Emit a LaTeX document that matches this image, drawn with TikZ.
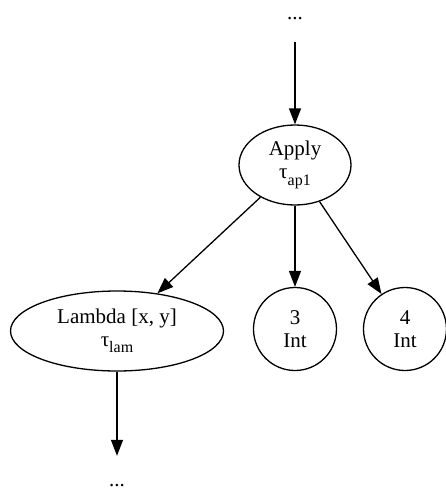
\documentclass[tikz,border=0pt]{standalone}
\usepackage{fontspec}
\setmainfont{Liberation Serif}
\usetikzlibrary{arrows.meta,shapes.geometric}
\newcommand\tsub[1]{\raisebox{-0.3em}{\fontsize{16}{16}\selectfont #1}}
\begin{document}
\begin{tikzpicture}[x=1pt,y=-1pt,
  every node/.style={font=\fontsize{21}{23}\selectfont, align=center, inner sep=0pt},
  ell/.style={draw, ellipse, line width=1.3pt},
  circ/.style={draw, circle, line width=1.3pt, minimum size=83pt},
  dots/.style={anchor=base},
  edge/.style={line width=1.3pt, -{Triangle[length=16pt,width=12pt]}}]
\useasboundingbox (0,0) rectangle (446,491);
\node[dots, text depth=23pt] (top) at (295,19) {...};
\node[ell, minimum width=112pt, minimum height=80pt] (apply) at (295,165) {Apply\\τ\tsub{ap1}};
\node[ell, minimum width=213pt, minimum height=80pt] (lam) at (117,331) {Lambda [x, y]\\τ\tsub{lam}};
\node[circ] (three) at (295,329) {3\\Int};
\node[circ] (four) at (405,329) {4\\Int};
\node[dots, text height=30pt] (bot) at (117,486) {...};
\draw[edge] (top.south) -- (apply);
\draw[edge] (apply) -- (lam);
\draw[edge] (apply) -- (three);
\draw[edge] (apply) -- (four);
\draw[edge] (lam) -- (bot.north);
\end{tikzpicture}
\end{document}
